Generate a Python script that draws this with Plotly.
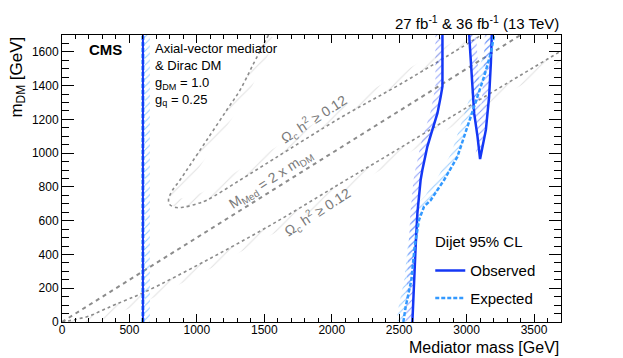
import numpy as np
import plotly.graph_objects as go

# exclusion contours (GeV)
low_obs_x = [600, 600]
low_obs_y = [0, 1700]
low_exp_x = [600, 600]
low_exp_y = [0, 1700]

obs_x = [2598, 2610, 2622, 2635, 2659, 2672, 2684, 2709, 2746, 2784, 2808, 2821, 2821]
obs_y = [0, 247, 445, 643, 841, 900, 940, 1039, 1138, 1237, 1335, 1395, 1700]

obs2_x = [3019, 3031, 3056, 3081, 3100, 3143, 3167, 3180, 3187]
obs2_y = [1700, 1534, 1237, 1098, 965, 1138, 1335, 1534, 1700]

exp_x = [2531, 2548, 2590, 2615, 2647, 2684, 2734, 2784, 2833, 2932, 3031, 3130, 3180, 3204]
exp_y = [0, 89, 247, 445, 604, 683, 722, 782, 841, 979, 1217, 1454, 1593, 1700]

# relic density contours
relic_up_x = [1531, 1420, 1321, 1222, 1074, 950, 875, 815, 790, 800, 850, 900,
              1000, 1074, 1321, 1569, 2065, 2511, 3030, 3110]
relic_up_y = [1700, 1530, 1375, 1256, 1078, 930, 841, 775, 725, 695, 678, 680,
              700, 722, 841, 965, 1210, 1410, 1660, 1700]
relic_lo_x = [0, 100, 200, 300, 400, 615, 1074, 1569, 2065, 2461, 3000, 3700]
relic_lo_y = [0, 15, 35, 70, 105, 178, 366, 584, 821, 1009, 1270, 1605]

med_x = [0, 3400]
med_y = [0, 1700]

x_max = 3700
y_max = 1700

c_obs = '#1437f5'
c_exp = '#3399ff'
c_gray = '#8c8c8c'

# pixel scale of the plotting area, used to offset hatch bands
sx = 499 / x_max
sy = 287 / y_max


def hatch_band(xs, ys, d):
    px = np.array(xs, float) * sx
    py = np.array(ys, float) * sy
    tx = np.gradient(px)
    ty = np.gradient(py)
    n = np.hypot(tx, ty)
    nx, ny = -ty / n, tx / n
    ox = (px + d * nx) / sx
    oy = (py + d * ny) / sy
    bx = list(xs) + list(ox[::-1]) + [xs[0]]
    by = list(ys) + list(oy[::-1]) + [ys[0]]
    return bx, by


fig = go.Figure()


def add_hatch(xs, ys, d, color, size=5, solidity=0.2):
    bx, by = hatch_band(xs, ys, d)
    fig.add_trace(go.Scatter(
        x=bx, y=by, mode='none', fill='toself',
        fillcolor='rgba(0,0,0,0)',
        fillpattern=dict(shape='/', fgcolor=color, bgcolor='rgba(0,0,0,0)',
                         size=size, solidity=solidity),
        showlegend=False, hoverinfo='skip',
    ))


# relic density hatches and lines
add_hatch(relic_up_x, relic_up_y, 9, '#c4c4c4', size=10, solidity=0.1)
add_hatch(relic_lo_x, relic_lo_y, -9, '#c4c4c4', size=10, solidity=0.1)
for xs, ys in [(relic_up_x, relic_up_y), (relic_lo_x, relic_lo_y)]:
    fig.add_trace(go.Scatter(
        x=xs, y=ys, mode='lines', line=dict(color=c_gray, width=1.6, dash='dot', shape='spline'),
        showlegend=False, hoverinfo='skip',
    ))
fig.add_trace(go.Scatter(
    x=med_x, y=med_y, mode='lines', line=dict(color=c_gray, width=2, dash='4px,4px'),
    showlegend=False, hoverinfo='skip',
))

# exclusion hatches
add_hatch(low_exp_x, low_exp_y, -7, c_exp)
add_hatch(exp_x, exp_y, 7, c_exp)
add_hatch(obs_x, obs_y, 7, c_obs)
add_hatch(obs2_x, obs2_y, 7, c_obs)

fig.add_trace(go.Scatter(
    x=low_exp_x, y=low_exp_y, mode='lines', line=dict(color=c_exp, width=3, dash='4px,2px'),
    showlegend=False, hoverinfo='skip',
))
fig.add_trace(go.Scatter(
    x=low_obs_x, y=low_obs_y, mode='lines', line=dict(color=c_obs, width=2),
    showlegend=False, hoverinfo='skip',
))
fig.add_trace(go.Scatter(
    x=obs_x, y=obs_y, mode='lines', line=dict(color=c_obs, width=2.5),
    name='Observed', legendgroup='obs',
))
fig.add_trace(go.Scatter(
    x=obs2_x, y=obs2_y, mode='lines', line=dict(color=c_obs, width=2.5),
    showlegend=False, hoverinfo='skip',
))
fig.add_trace(go.Scatter(
    x=exp_x, y=exp_y, mode='lines', line=dict(color=c_exp, width=2.5, dash='4px,2px'),
    name='Expected', legendgroup='exp',
))

axis_common = dict(
    showgrid=False, zeroline=False, showline=True, linecolor='black', linewidth=1,
    mirror='allticks', ticks='inside', tickcolor='black',
    tickfont=dict(size=12, color='black'),
)
fig.update_xaxes(
    range=[0, x_max], dtick=500, ticklen=8, ticklabelstandoff=-3,
    minor=dict(dtick=100, ticks='inside', ticklen=4, tickcolor='black'),
    **axis_common,
)
fig.update_yaxes(
    range=[0, y_max], dtick=200, ticklen=12,
    minor=dict(dtick=50, ticks='inside', ticklen=7, tickcolor='black'),
    **axis_common,
)

text_font = dict(family='Liberation Sans, Arial', size=13, color='black')
gray_font = dict(family='Liberation Sans, Arial', size=14, color='#7a7a7a')

annotations = [
    dict(x=0.05, y=0.985, text='<b>CMS</b>', font=dict(family='Liberation Sans, Arial', size=15, color='black'),
         xanchor='left', yanchor='top', showarrow=False),
    dict(x=0.182, y=0.985, text='Axial-vector mediator<br>& Dirac DM<br>g<sub>DM</sub> = 1.0<br>g<sub>q</sub> = 0.25',
         font=text_font, align='left', xanchor='left', yanchor='top', showarrow=False),
    dict(x=1.0, y=1.0, text='27 fb<sup>-1</sup> & 36 fb<sup>-1</sup> (13 TeV)',
         font=dict(family='Liberation Sans, Arial', size=15, color='black'),
         xanchor='right', yanchor='bottom', yshift=1, showarrow=False),
    dict(x=1.0, y=-0.125, text='Mediator mass [GeV]',
         font=dict(family='Liberation Sans, Arial', size=16, color='black'),
         xanchor='right', yanchor='bottom', showarrow=False),
    dict(x=-0.09, y=1.0, text='m<sub>DM</sub> [GeV]', textangle=-90,
         font=dict(family='Liberation Sans, Arial', size=17, color='black'),
         xanchor='center', yanchor='top', showarrow=False),
    dict(x=0.505, y=0.709, text='Ω<sub>c</sub> h<sup>2</sup> ≥ 0.12', textangle=-33,
         font=gray_font, xanchor='center', yanchor='middle', showarrow=False),
    dict(x=0.513, y=0.382, text='Ω<sub>c</sub> h<sup>2</sup> ≥ 0.12', textangle=-33,
         font=gray_font, xanchor='center', yanchor='middle', showarrow=False),
    dict(x=0.418, y=0.495, text='M<sub>Med</sub> = 2 x m<sub>DM</sub>', textangle=-33,
         font=gray_font, xanchor='center', yanchor='middle', showarrow=False),
    dict(x=0.7435, y=0.281, text='Dijet 95% CL',
         font=dict(family='Liberation Sans, Arial', size=15, color='black'),
         xanchor='left', yanchor='middle', showarrow=False),
]
for a in annotations:
    a.update(xref='paper', yref='paper')

fig.update_layout(
    width=623, height=358,
    margin=dict(l=62, r=62, t=35, b=36),
    paper_bgcolor='white', plot_bgcolor='white',
    font=dict(family='Liberation Sans, Arial', color='black'),
    annotations=annotations,
    legend=dict(
        x=0.738, y=0.236, xanchor='left', yanchor='top',
        bgcolor='rgba(0,0,0,0)',
        font=dict(size=15, color='black'),
        itemwidth=30, tracegroupgap=5,
    ),
)

fig.write_html('out.html', config={'displayModeBar': False},
               post_script="document.body.style.margin='0';")
